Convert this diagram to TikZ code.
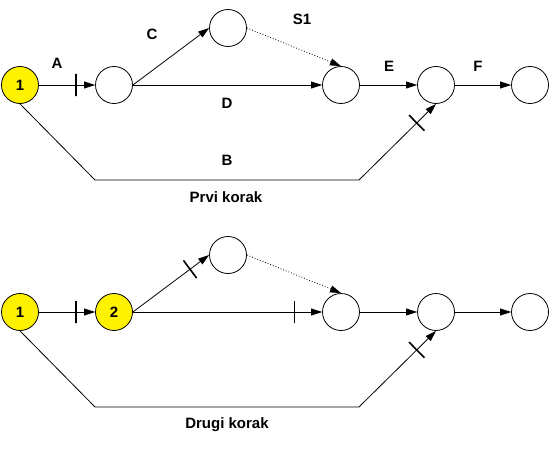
\documentclass[tikz,border=0pt]{standalone}
\usepackage{fontspec}
\setmainfont{Liberation Sans}
\usetikzlibrary{arrows.meta}
\begin{document}
\begin{tikzpicture}[x=1pt,y=-1pt,
  ev/.style={circle,draw,line width=0.8pt,minimum size=37pt,inner sep=0pt,font=\fontsize{15}{18}\selectfont\bfseries},
  done/.style={ev,fill=yellow},
  lbl/.style={anchor=base,inner sep=0pt,font=\fontsize{15}{18}\selectfont\bfseries},
  act/.style={line width=0.8pt,-{Triangle[length=11pt,width=7pt]}},
  dum/.style={act,dotted},
  tickmark/.style={draw,line width=1.6pt,minimum width=0pt,minimum height=22pt,inner sep=0pt,outer sep=0pt,sloped}]
\useasboundingbox (0,0) rectangle (549,452);
% ---- first step ----
\node[done] (t1) at (20,85) {1};
\node[ev] (t2) at (114,85) {};
\node[ev] (tc) at (228,28) {};
\node[ev] (ts) at (341,85) {};
\node[ev] (te) at (436,85) {};
\node[ev] (tf) at (530,85) {};
\coordinate (tb1) at (95,180);
\coordinate (tb2) at (359,180);
\draw[act] (t1) -- node[pos=.66,tickmark]{} (t2);
\draw[act] (t2.east) -- (tc.west);
\draw[act] (t2) -- (ts);
\draw[dum] (tc.east) -- (ts.north);
\draw[act] (ts) -- (te);
\draw[act] (te) -- (tf);
\draw[act] (t1.south) -- (tb1) -- (tb2) -- node[pos=.75,tickmark]{} (te.south);
\node[lbl] (la) at (57,69) {A};
\node[lbl] (lc) at (152,40) {C};
\node[lbl] (ls) at (302,25) {S1};
\node[lbl] (le) at (389,71) {E};
\node[lbl] (lf) at (478,71) {F};
\node[lbl] (ld) at (227,108) {D};
\node[lbl] (lb) at (227,165) {B};
\node[lbl] (prvi) at (226,202) {Prvi korak};
% ---- second step ----
\node[done] (b1) at (20,312) {1};
\node[done] (b2) at (114,312) {2};
\node[ev] (bc) at (228,255) {};
\node[ev] (bs) at (341,312) {};
\node[ev] (be) at (436,312) {};
\node[ev] (bf) at (530,312) {};
\coordinate (bb1) at (95,407);
\coordinate (bb2) at (359,407);
\draw[act] (b1) -- node[pos=.66,tickmark]{} (b2);
\draw[act] (b2.east) -- node[pos=.75,tickmark]{} (bc.west);
\draw[act] (b2) -- node[pos=.855,tickmark]{} (bs);
\draw[dum] (bc.east) -- (bs.north);
\draw[act] (bs) -- (be);
\draw[act] (be) -- (bf);
\draw[act] (b1.south) -- (bb1) -- (bb2) -- node[pos=.75,tickmark]{} (be.south);
\node[lbl] (drugi) at (227,428) {Drugi korak};
\end{tikzpicture}
\end{document}
